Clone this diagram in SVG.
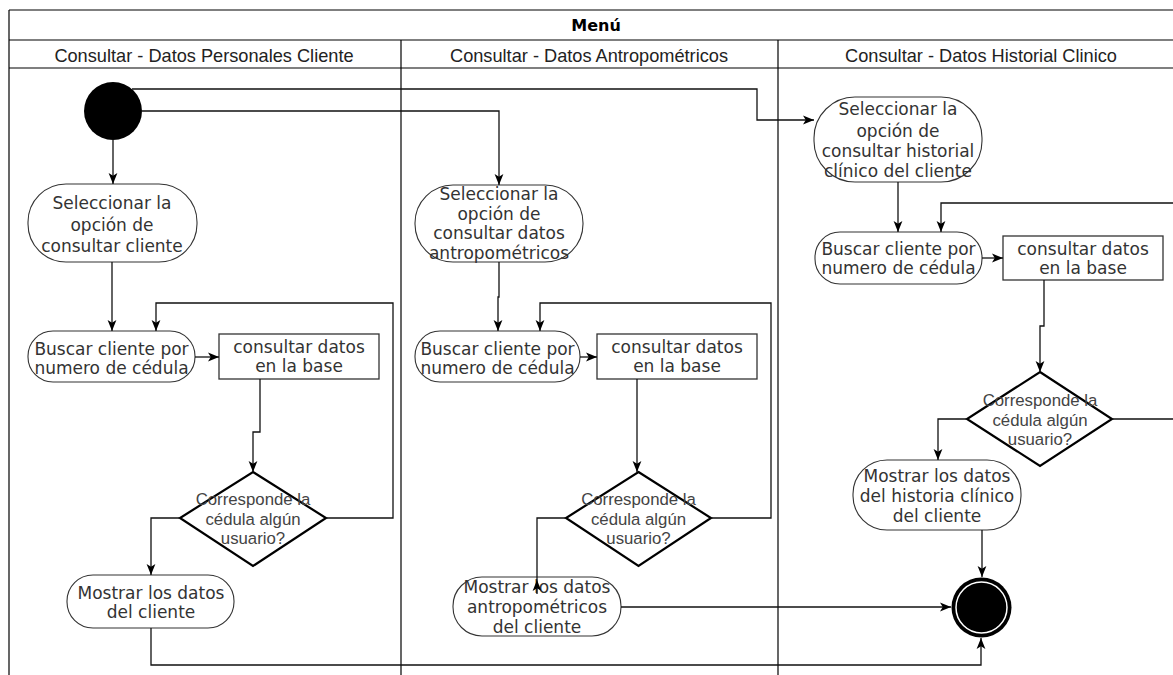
<svg xmlns="http://www.w3.org/2000/svg" width="1173" height="675" viewBox="0 0 1173 675">
  <style>
    .frame { fill: none; stroke: #000; stroke-width: 1.2; }
    .menu { font-family: "DejaVu Sans", sans-serif; font-weight: bold; font-size: 16px; fill: #000; text-anchor: middle; }
    .lane { font-family: "Liberation Sans", Arial, sans-serif; font-size: 18.2px; fill: #222; text-anchor: middle; }
    .act { fill: #fff; stroke: #333; stroke-width: 1.1; }
    .box { fill: #fff; stroke: #333; stroke-width: 1.3; }
    .dec { fill: #fff; stroke: #000; stroke-width: 2.2; stroke-linejoin: miter; }
    .t { font-family: "DejaVu Sans", Verdana, sans-serif; font-size: 17px; fill: #333; text-anchor: middle; }
    .q { font-family: "Liberation Sans", Arial, sans-serif; font-size: 16.8px; fill: #444; text-anchor: middle; }
    .edge { fill: none; stroke: #111; stroke-width: 1.3; marker-end: url(#arr); }
  </style>
  <defs>
    <marker id="arr" viewBox="0 0 10 10" refX="10" refY="5" markerWidth="11" markerHeight="11" markerUnits="userSpaceOnUse" orient="auto">
      <path d="M0,1 L10,5 L0,9 L2.5,5 Z" fill="#000"/>
    </marker>
  </defs>

  <rect width="1173" height="675" fill="#fff"/>

  <!-- swimlane frame -->
  <g id="pool">
    <line class="frame" x1="9" y1="10" x2="1173" y2="10"/>
    <line class="frame" x1="9" y1="40" x2="1173" y2="40"/>
    <line class="frame" x1="9" y1="68" x2="1173" y2="68"/>
    <line class="frame" x1="9" y1="10" x2="9" y2="675"/>
    <line class="frame" x1="401" y1="40" x2="401" y2="675"/>
    <line class="frame" x1="778" y1="40" x2="778" y2="675"/>
    <text class="menu" x="596" y="31">Menú</text>
    <text class="lane" x="204" y="62">Consultar - Datos Personales Cliente</text>
    <text class="lane" x="589" y="62">Consultar - Datos Antropométricos</text>
    <text class="lane" x="981" y="62">Consultar - Datos Historial Clinico</text>
  </g>

  <!-- start / end -->
  <g id="start">
    <circle cx="113" cy="111" r="29" fill="#000"/>
  </g>
  <g id="end">
    <circle cx="981.5" cy="607.5" r="30" fill="#000"/>
    <circle cx="981.5" cy="607.5" r="25.5" fill="#000" stroke="#fff" stroke-width="1.5"/>
  </g>

  <!-- lane 1: datos personales -->
  <g id="l1-seleccionar">
    <rect class="act" x="28" y="184" width="169" height="78" rx="38" ry="38"/>
    <text class="t" x="112" y="209">Seleccionar la</text>
    <text class="t" x="112" y="231">opción de</text>
    <text class="t" x="112" y="252">consultar cliente</text>
  </g>
  <g id="l1-buscar">
    <rect class="act" x="28" y="331" width="167" height="51" rx="25" ry="25"/>
    <text class="t" x="111.5" y="355">Buscar cliente por</text>
    <text class="t" x="111.5" y="374">numero de cédula</text>
  </g>
  <g id="l1-consultar">
    <rect class="box" x="219" y="334" width="160" height="45"/>
    <text class="t" x="299" y="353">consultar datos</text>
    <text class="t" x="299" y="372">en la base</text>
  </g>
  <g id="l1-decision">
    <polygon class="dec" points="253,472 326,518 253,566 180,518"/>
    <text class="q" x="253" y="505">Corresponde la</text>
    <text class="q" x="253" y="525">cédula algún</text>
    <text class="q" x="253" y="544">usuario?</text>
  </g>
  <g id="l1-mostrar">
    <rect class="act" x="67" y="575" width="167" height="53" rx="26" ry="26"/>
    <text class="t" x="151" y="599">Mostrar los datos</text>
    <text class="t" x="151" y="618">del cliente</text>
  </g>

  <!-- lane 2: datos antropométricos -->
  <g id="l2-seleccionar">
    <rect class="act" x="415" y="185" width="168" height="77" rx="38" ry="38"/>
    <text class="t" x="499" y="200">Seleccionar la</text>
    <text class="t" x="499" y="220">opción de</text>
    <text class="t" x="499" y="239">consultar datos</text>
    <text class="t" x="499" y="259">antropométricos</text>
  </g>
  <g id="l2-buscar">
    <rect class="act" x="415" y="331" width="165" height="51" rx="25" ry="25"/>
    <text class="t" x="497.5" y="355">Buscar cliente por</text>
    <text class="t" x="497.5" y="374">numero de cédula</text>
  </g>
  <g id="l2-consultar">
    <rect class="box" x="597" y="334" width="160" height="45"/>
    <text class="t" x="677" y="353">consultar datos</text>
    <text class="t" x="677" y="372">en la base</text>
  </g>
  <g id="l2-decision">
    <polygon class="dec" points="638.5,472 711,518 638.5,566 566,518"/>
    <text class="q" x="638.5" y="505">Corresponde la</text>
    <text class="q" x="638.5" y="525">cédula algún</text>
    <text class="q" x="638.5" y="544">usuario?</text>
  </g>
  <g id="l2-mostrar">
    <rect class="act" x="453" y="577" width="168" height="59" rx="29" ry="29"/>
    <text class="t" x="537" y="593">Mostrar los datos</text>
    <text class="t" x="537" y="613">antropométricos</text>
    <text class="t" x="537" y="633">del cliente</text>
  </g>

  <!-- lane 3: historial clínico -->
  <g id="l3-seleccionar">
    <rect class="act" x="814" y="97" width="168" height="85" rx="41" ry="41"/>
    <text class="t" x="898" y="115">Seleccionar la</text>
    <text class="t" x="898" y="137">opción de</text>
    <text class="t" x="898" y="157">consultar historial</text>
    <text class="t" x="898" y="177">clínico del cliente</text>
  </g>
  <g id="l3-buscar">
    <rect class="act" x="815" y="232" width="167" height="52" rx="25" ry="25"/>
    <text class="t" x="898.5" y="255">Buscar cliente por</text>
    <text class="t" x="898.5" y="274">numero de cédula</text>
  </g>
  <g id="l3-consultar">
    <rect class="box" x="1003" y="236" width="160" height="44"/>
    <text class="t" x="1083" y="255">consultar datos</text>
    <text class="t" x="1083" y="274">en la base</text>
  </g>
  <g id="l3-decision">
    <polygon class="dec" points="1040,372 1112,419 1040,466 967,419"/>
    <text class="q" x="1040" y="406">Corresponde la</text>
    <text class="q" x="1040" y="426">cédula algún</text>
    <text class="q" x="1040" y="445">usuario?</text>
  </g>
  <g id="l3-mostrar">
    <rect class="act" x="853" y="460" width="168" height="70" rx="34" ry="34"/>
    <text class="t" x="937" y="482">Mostrar los datos</text>
    <text class="t" x="937" y="502">del historia clínico</text>
    <text class="t" x="937" y="522">del cliente</text>
  </g>

  <!-- connectors (drawn last, on top of the nodes) -->
  <g id="connectors">
    <path class="edge" d="M113,140 V184"/>
    <path class="edge" d="M142,111 H499 V185"/>
    <path class="edge" d="M132,89 H757 V120 H814"/>

    <path class="edge" d="M112,262 V331"/>
    <path class="edge" d="M195,357 H219"/>
    <path class="edge" d="M260,379 V432 H253 V472"/>
    <path class="edge" d="M326,518 H393 V303 H156 V331"/>
    <path class="edge" d="M180,518 H151 V575"/>
    <path class="edge" d="M151,628 V665 H981 V638"/>

    <path class="edge" d="M499,262 V297 H498 V331"/>
    <path class="edge" d="M580,357 H597"/>
    <path class="edge" d="M637,379 V472"/>
    <path class="edge" d="M711,518 H771 V303 H540 V331"/>
    <path class="edge" d="M566,518 H537 V594 L537,580"/>
    <path class="edge" d="M621,607 H951"/>

    <path class="edge" d="M898,182 V232"/>
    <path class="edge" d="M982,258 H1003"/>
    <path class="edge" d="M1044,280 V326 H1040 V372"/>
    <path class="edge" d="M1112,419 H1185 V203 H941 V232"/>
    <path class="edge" d="M967,419 H938 V460"/>
    <path class="edge" d="M982,530 V577"/>
  </g>
</svg>
